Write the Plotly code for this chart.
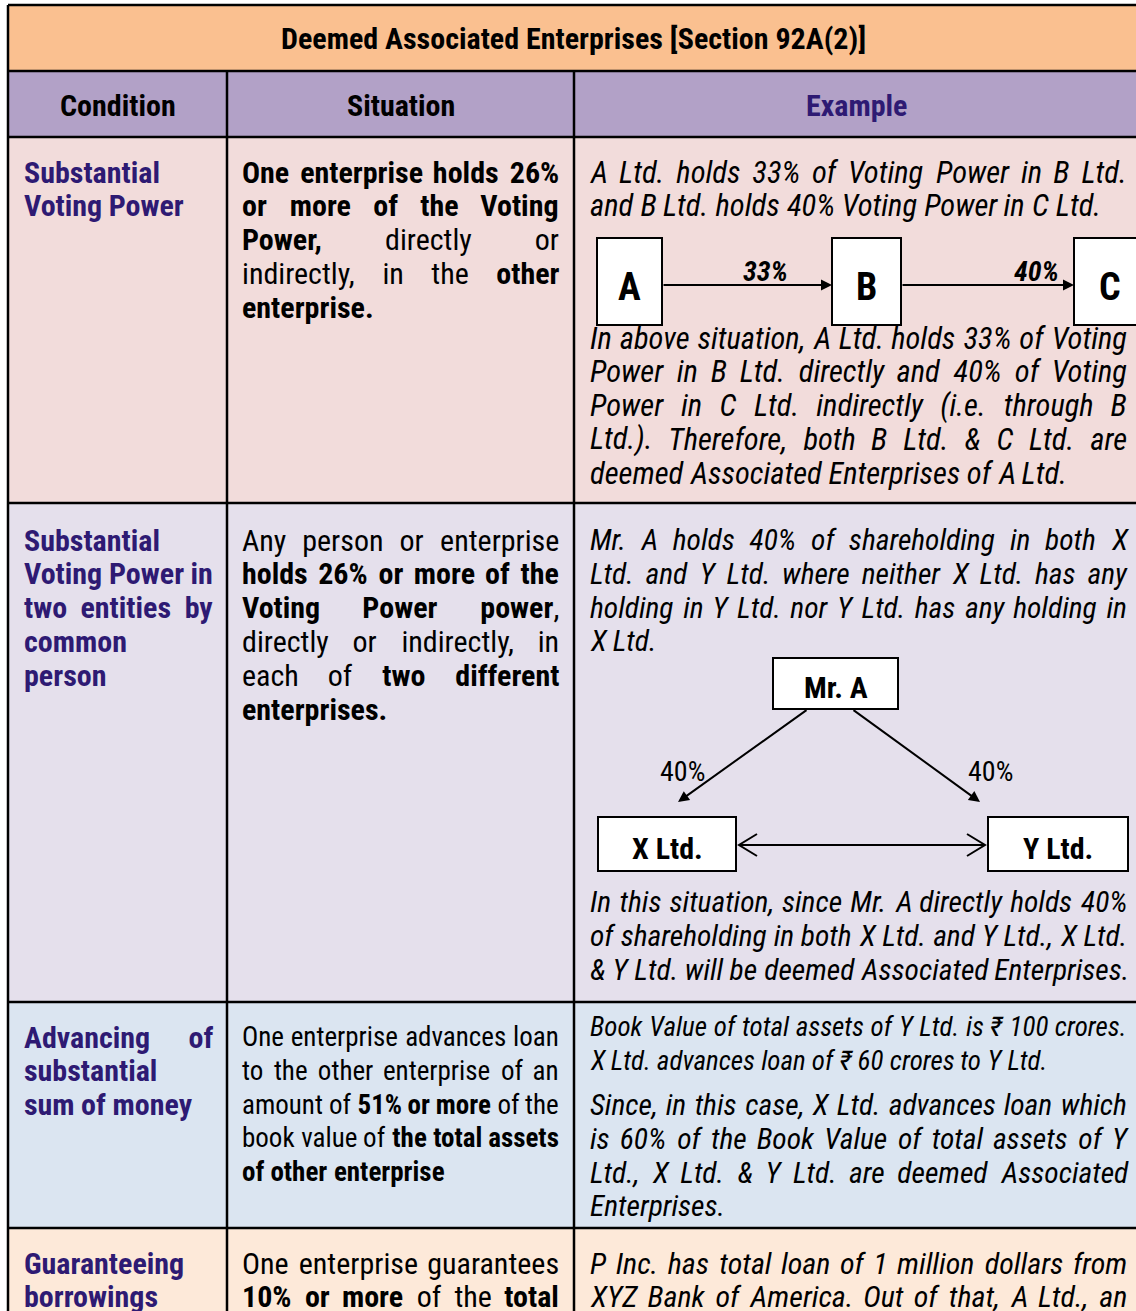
import plotly.graph_objects as go

# ---------------- content ----------------
title_text = "Deemed Associated Enterprises [Section 92A(2)]"
header_labels = ["Condition", "Situation", "Example"]

condition_lines = [
    ["Substantial", "Voting Power"],
    ["Substantial", "Voting Power in", "two entities by", "common", "person"],
    ["Advancing of", "substantial", "sum of money"],
    ["Guaranteeing", "borrowings"],
]
condition_continues = [False, False, False, True]

situation_lines = [
    ["*One enterprise holds 26%*", "*or more of the Voting*", "*Power,* directly or",
     "indirectly, in the *other*", "*enterprise.*"],
    ["Any person or enterprise", "*holds 26% or more of the*", "*Voting Power power*,",
     "directly or indirectly, in", "each of *two different*", "*enterprises.*"],
    ["One enterprise advances loan", "to the other enterprise of an",
     "amount of *51% or more* of the", "book value of *the total assets*",
     "*of other enterprise*"],
    ["One enterprise guarantees", "*10% or more* of the *total*"],
]
situation_continues = [False, False, False, True]

example_row1_a = ["A Ltd. holds 33% of Voting Power in B Ltd.",
                  "and B Ltd. holds 40% Voting Power in C Ltd."]
example_row1_b = ["In above situation, A Ltd. holds 33% of Voting",
                  "Power in B Ltd. directly and 40% of Voting",
                  "Power in C Ltd. indirectly (i.e. through B",
                  "Ltd.). Therefore, both B Ltd. & C Ltd. are",
                  "deemed Associated Enterprises of A Ltd."]
example_row2_a = ["Mr. A holds 40% of shareholding in both X",
                  "Ltd. and Y Ltd. where neither X Ltd. has any",
                  "holding in Y Ltd. nor Y Ltd. has any holding in",
                  "X Ltd."]
example_row2_b = ["In this situation, since Mr. A directly holds 40%",
                  "of shareholding in both X Ltd. and Y Ltd., X Ltd.",
                  "& Y Ltd. will be deemed Associated Enterprises."]
example_row3_a = ["Book Value of total assets of Y Ltd. is ₹ 100 crores.",
                  "X Ltd. advances loan of ₹ 60 crores to Y Ltd."]
example_row3_b = ["Since, in this case, X Ltd. advances loan which",
                  "is 60% of the Book Value of total assets of Y",
                  "Ltd., X Ltd. & Y Ltd. are deemed Associated",
                  "Enterprises."]
example_row4_a = ["P Inc. has total loan of 1 million dollars from",
                  "XYZ Bank of America. Out of that, A Ltd., an"]

chain_nodes = ["A", "B", "C"]
chain_labels = ["33%", "40%"]
tri_nodes = ["Mr. A", "X Ltd.", "Y Ltd."]
tri_labels = ["40%", "40%"]

# ---------------- style / geometry ----------------
W, H = 1136, 1311
FONT = "Liberation Sans Narrow, Arial Narrow, Roboto Condensed, sans-serif"
NAVY = "#2E1A73"
BLACK = "#000000"
TITLE_BG = "#FAC090"
HEADER_BG = "#B2A1C7"
ROW_BG = ["#F2DCDB", "#E5E0EC", "#DBE5F1", "#FDE9D9"]

COL_X = [8, 227, 574, 1138]
ROW_Y = [5, 71, 137, 503, 1002, 1228, 1345]
TEXT_X = [(23, 212), (241, 558), (589, 1126)]
STEP = 33.8
ROW_FIRST = [172, 540, 1037, 1263]
NARROW = 0.82
SPACE = 228  # space advance of the narrow face, per 1000 em

# approximate advance widths (per 1000 em) used only for the initial layout;
# the page script re-measures the rendered words and justifies them exactly
REG = {}
for chars, w in [("ijl'", 222), (" .,;:!ftI[]", 278), ("r-()", 333),
                 ("ckszvxyJ", 500), ("abdeghnopqu0123456789L₹", 556),
                 ("FTZ", 611), ("ABEKPSVXY&", 667), ("CDHNRUw", 722),
                 ("GOQ", 778), ("mM", 833), ("%", 889), ("W", 944)]:
    for c in chars:
        REG[c] = w
BOLD = {}
for chars, w in [(" .,;:!ijlI", 278), ("tf()[]-", 333), ("r", 389), ("z", 500),
                 ("acekvsxyJ0123456789₹", 556), ("bdghnopquLFTZ", 611),
                 ("EPSVXY", 667), ("ABCDHKNRU&", 722), ("wGOQ", 778),
                 ("M", 833), ("m%", 889), ("W", 944)]:
    for c in chars:
        BOLD[c] = w

shapes = []
annots = []
line_counter = [0]


def esc(s):
    return s.replace("&", "&amp;")


def parse_words(line, base_bold):
    words = []
    bold = base_bold
    for raw in line.split(" "):
        html, seg, width = "", "", 0
        for ch in raw:
            if ch == "*":
                if seg:
                    html += f"<b>{esc(seg)}</b>" if bold else esc(seg)
                    seg = ""
                bold = not bold
                continue
            seg += ch
            width += (BOLD if bold else REG).get(ch, 556)
        if seg:
            html += f"<b>{esc(seg)}</b>" if bold else esc(seg)
        words.append((html, width))
    return words


def ann(html, x, y, anchor, size, color, italic=False, name=None):
    if italic:
        html = f"<i>{html}</i>"
    d = dict(x=x, y=y, xref="x", yref="y", text=html, showarrow=False,
             xanchor=anchor, yanchor="middle", align="left", borderpad=0,
             font=dict(family=FONT, size=size, color=color))
    if name:
        d["name"] = name
    annots.append(d)


def add_line(text, x0, x1, y, size, color, bold=False, italic=False, justify=False):
    words = parse_words(text, bold)
    lid = line_counter[0]
    line_counter[0] += 1
    scale = size * NARROW / 1000
    widths = [w * scale for _, w in words]
    n = len(words)
    if justify and n > 1:
        gap = (x1 - x0 - sum(widths)) / (n - 1)
    else:
        gap = SPACE * size / 1000
    x = x0
    for k, (h, _) in enumerate(words):
        name = f"L{lid}|{k}|{x0}|{x1}|{1 if justify and n > 1 else 0}|{size}|{x:.2f}"
        ann(h, x, y, "left", size, color, italic, name=name)
        x += widths[k] + gap


def add_para(lines, col, y0, size, color, bold=False, italic=False, cont=False, step=STEP):
    x0, x1 = TEXT_X[col]
    for i, ln in enumerate(lines):
        last = i == len(lines) - 1
        add_line(ln, x0, x1, y0 + i * step, size, color, bold, italic,
                 justify=(not last) or cont)


def rect(x0, y0, x1, y1, fill, lw=0):
    shapes.append(dict(type="rect", xref="x", yref="y", x0=x0, y0=y0, x1=x1, y1=y1,
                       fillcolor=fill, line=dict(width=lw, color=BLACK)))


def line(x0, y0, x1, y1, lw=2.5):
    shapes.append(dict(type="line", xref="x", yref="y", x0=x0, y0=y0, x1=x1, y1=y1,
                       line=dict(width=lw, color=BLACK)))


def arrow(xs, ys, xe, ye):
    annots.append(dict(x=xe, y=ye, ax=xs, ay=ys, xref="x", yref="y", axref="x", ayref="y",
                       text="", showarrow=True, arrowhead=2, arrowsize=1.1,
                       arrowwidth=2, arrowcolor=BLACK, standoff=0))


# ---------------- backgrounds ----------------
rect(COL_X[0], ROW_Y[0], COL_X[3], ROW_Y[1], TITLE_BG)
rect(COL_X[0], ROW_Y[1], COL_X[3], ROW_Y[2], HEADER_BG)
for r in range(4):
    rect(COL_X[0], ROW_Y[r + 2], COL_X[3], ROW_Y[r + 3], ROW_BG[r])

# ---------------- grid lines ----------------
for y in ROW_Y[:-1]:
    line(COL_X[0], y, COL_X[3], y)
line(COL_X[0], ROW_Y[0], COL_X[0], ROW_Y[-1])
line(COL_X[3], ROW_Y[0], COL_X[3], ROW_Y[-1])
for x in COL_X[1:3]:
    line(x, ROW_Y[1], x, ROW_Y[-1])

# ---------------- title & header ----------------
ann(f"<b>{title_text}</b>", (COL_X[0] + COL_X[3]) / 2, 38, "center", 30, BLACK)
for i, lab in enumerate(header_labels):
    ann(f"<b>{lab}</b>", (COL_X[i] + COL_X[i + 1]) / 2, 105, "center", 30,
        NAVY if i == 2 else BLACK)

# ---------------- body text ----------------
for r in range(4):
    add_para(condition_lines[r], 0, ROW_FIRST[r], 30, NAVY, bold=True,
             cont=condition_continues[r])
    size = 27 if r == 2 else 30
    add_para(situation_lines[r], 1, ROW_FIRST[r], size, BLACK,
             cont=situation_continues[r])

add_para(example_row1_a, 2, 172, 30.5, BLACK, italic=True)
add_para(example_row1_b, 2, 338, 30.5, BLACK, italic=True)
add_para(example_row2_a, 2, 540, 29.5, BLACK, italic=True)
add_para(example_row2_b, 2, 902, 29.5, BLACK, italic=True)
add_para(example_row3_a, 2, 1027, 27, BLACK, italic=True, step=34)
add_para(example_row3_b, 2, 1105, 29.5, BLACK, italic=True)
add_para(example_row4_a, 2, 1263, 30, BLACK, italic=True, cont=True)

# ---------------- diagram 1: A -> B -> C ----------------
chain_boxes = [(597, 662), (832, 901), (1074, 1145)]
cy0, cy1, cya = 238, 325, 285
for (bx0, bx1), lab in zip(chain_boxes, chain_nodes):
    rect(bx0, cy0, bx1, cy1, "#FFFFFF", lw=2)
    ann(f"<b>{lab}</b>", (bx0 + bx1) / 2, 287, "center", 38, BLACK)
for i in range(len(chain_labels)):
    arrow(chain_boxes[i][1], cya, chain_boxes[i + 1][0], cya)
ann(f"<b><i>{chain_labels[0]}</i></b>", 765, 271, "center", 28, BLACK)
ann(f"<b><i>{chain_labels[1]}</i></b>", 1036, 271, "center", 28, BLACK)

# ---------------- diagram 2: Mr. A -> X, Y ----------------
top_box = (773, 658, 898, 709)
x_box = (598, 817, 736, 871)
y_box = (988, 817, 1128, 871)
for (bx0, by0, bx1, by1), lab in zip([top_box, x_box, y_box], tri_nodes):
    rect(bx0, by0, bx1, by1, "#FFFFFF", lw=2)
    ann(f"<b>{lab}</b>", (bx0 + bx1) / 2, (by0 + by1) / 2 + 4, "center", 30, BLACK)
arrow(808, 709, 678, 802)
arrow(852, 709, 980, 802)
ann(tri_labels[0], 682, 771, "center", 28, BLACK)
ann(tri_labels[1], 990, 771, "center", 28, BLACK)
line(739, 845, 985, 845, lw=2)
shapes.append(dict(type="path", xref="x", yref="y",
                   path="M 757 834 L 739 845 L 757 856", line=dict(width=2, color=BLACK)))
shapes.append(dict(type="path", xref="x", yref="y",
                   path="M 967 834 L 985 845 L 967 856", line=dict(width=2, color=BLACK)))

fig = go.Figure(go.Scatter(x=[], y=[], hoverinfo="skip", showlegend=False))
fig.update_layout(
    width=W, height=H, margin=dict(l=0, r=0, t=0, b=0),
    paper_bgcolor="#FFFFFF", plot_bgcolor="#FFFFFF",
    xaxis=dict(range=[0, W], visible=False, fixedrange=True),
    yaxis=dict(range=[H, 0], visible=False, fixedrange=True),
    shapes=shapes, annotations=annots, showlegend=False,
)

# re-measure the rendered words and lay each line out (justified where needed)
JUSTIFY_JS = """
document.body.style.margin = '0';
document.body.style.overflow = 'hidden';
var gd = document.getElementById('{plot_id}');
var anns = gd.layout.annotations;
var lines = {};
gd.querySelectorAll('g.annotation').forEach(function (g) {
  var a = anns[parseInt(g.getAttribute('data-index'))];
  if (!a || !a.name || a.name.charAt(0) !== 'L') return;
  var p = a.name.slice(1).split('|');
  var t = g.querySelector('text');
  if (!t) return;
  (lines[p[0]] = lines[p[0]] || []).push({g: g, t: t, k: +p[1], x0: +p[2], x1: +p[3],
      j: p[4] === '1', size: +p[5], est: +p[6]});
});
Object.keys(lines).forEach(function (id) {
  var ws = lines[id].sort(function (a, b) { return a.k - b.k; });
  var total = 0;
  ws.forEach(function (w) { w.len = w.t.getComputedTextLength(); total += w.len; });
  var n = ws.length;
  var gap = (ws[0].j && n > 1) ? (ws[0].x1 - ws[0].x0 - total) / (n - 1) : 0.228 * ws[0].size;
  var x = ws[0].x0;
  ws.forEach(function (w) {
    w.g.setAttribute('transform', 'translate(' + (x - w.est) + ',0)');
    x += w.len + gap;
  });
});
"""

fig.write_html("out.html", config={"displayModeBar": False}, post_script=JUSTIFY_JS)
